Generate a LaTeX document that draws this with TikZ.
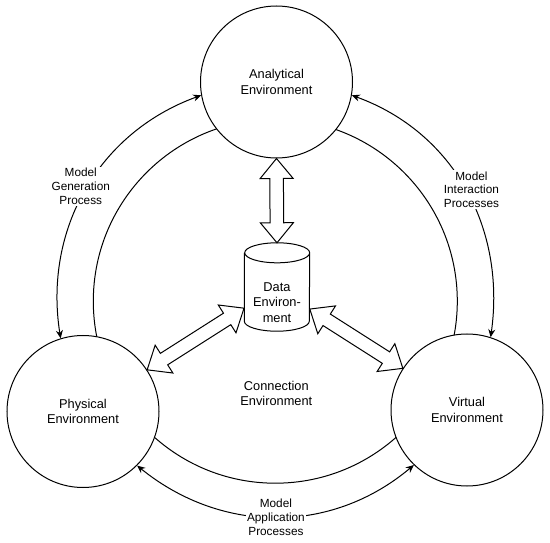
\documentclass[tikz,border=0pt]{standalone}
\usepackage{fontspec}
\setmainfont{Liberation Sans}
\usetikzlibrary{arrows.meta,calc,shapes.geometric}
\tikzset{
  >={Stealth[length=8pt,width=7pt]},
  envnode/.style={
    circle,
    draw,
    line width=1pt,
    fill=white,
    minimum size=152pt,
    inner sep=0pt,
    align=center,
    font=\fontsize{12.8}{15.5}\selectfont
  },
  ring/.style={circle, draw, line width=1pt, minimum size=364pt, inner sep=0pt},
  databox/.style={rectangle, minimum width=65pt, minimum height=88pt, inner sep=0pt},
  cylline/.style={draw, line width=1pt, fill=white},
  envtext/.style={align=center, font=\fontsize{12.8}{15.5}\selectfont},
  proc/.style={<->, line width=1pt},
  proclabel/.style={fill=white, inner sep=1.5pt, align=center, font=\fontsize{11.8}{13.8}\selectfont},
  blockline/.style={draw, line width=1pt, fill=white, line join=miter}
}
% hollow double arrow from #1 to #2
\newcommand{\blockarrow}[2]{%
  \path[blockline] let \p1=($(#2)-(#1)$), \n1={atan2(\y1,\x1)}, \n2={veclen(\x1,\y1)} in
    [shift={(#1)}, rotate=\n1] (0,0) -- (20,16.5) -- (20,6.8) -- (\n2-20,6.8) -- (\n2-20,16.5)
    -- (\n2,0) -- (\n2-20,-16.5) -- (\n2-20,-6.8) -- (20,-6.8) -- (20,-16.5) -- cycle;}

\begin{document}
\begin{tikzpicture}[x=1pt, y=1pt]
  \useasboundingbox (0,0) rectangle (550,542);

  \node[ring] (ring) at (275.3,240.8) {};
  \node[envtext] (conntext) at (276.3,148.5) {Connection\\Environment};

  \node[envnode] (anal) at (276.5,460) {Analytical\\Environment};
  \node[envnode] (phys) at (83,130.5) {Physical\\Environment};
  \node[envnode] (virt) at (467,132) {Virtual\\Environment};

  % data store drawn as a cylinder round its box
  \node[databox] (data) at (277,255) {};
  \path[cylline] ($(data.north west)+(0,-10)$) -- ($(data.south west)+(0,10)$)
    arc[start angle=180, end angle=360, x radius=32.5, y radius=10]
    -- ($(data.north east)+(0,-10)$)
    arc[start angle=0, end angle=180, x radius=32.5, y radius=10]
    arc[start angle=180, end angle=360, x radius=32.5, y radius=10];
  \node[envtext] (datatext) at (277,239.5) {Data\\Environ-\\ment};

  \coordinate (dleft) at ($(data.west)+(0,-21)$);
  \coordinate (dright) at ($(data.east)+(0,-22)$);

  \blockarrow{anal.south}{data.north}
  \blockarrow{phys.33}{dleft}
  \blockarrow{virt.147}{dright}

  \draw[proc] (anal.190) to[out=200, in=99] node[proclabel, pos=0.5, xshift=-5, yshift=4] {Model\\Generation\\Process} (phys.107);
  \draw[proc] (anal.350) to[out=-20, in=82] node[proclabel, pos=0.5, xshift=6] {Model\\Interaction\\Processes} (virt.72);
  \draw[proc] (phys.315) to[out=-39, in=220] node[proclabel, pos=0.5] {Model\\Application\\Processes} (virt.226);
\end{tikzpicture}
\end{document}
